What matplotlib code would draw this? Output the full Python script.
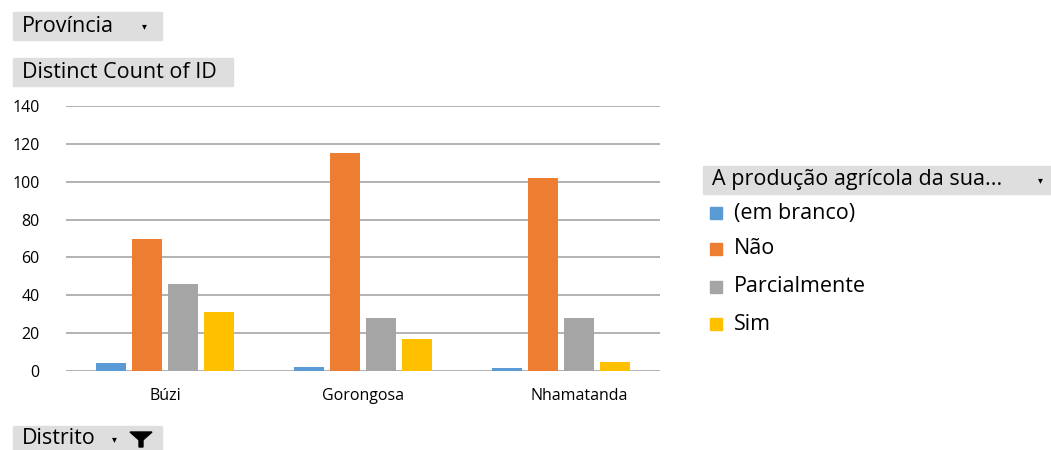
import matplotlib.pyplot as plt
import matplotlib.patches as mpatches
import matplotlib.transforms as mtransforms
import numpy as np

districts = ["Búzi", "Gorongosa", "Nhamatanda"]
series = ["(em branco)", "Não", "Parcialmente", "Sim"]
em_branco = [4, 2, 1.5]
nao = [70, 115, 102]
parcialmente = [46, 28, 28]
sim = [31, 17, 5]
colors = ["#5B9BD5", "#ED7D31", "#A5A5A5", "#FFC000"]

W, H = 1051, 450
fig = plt.figure(figsize=(W / 100, H / 100), dpi=100)
plt.rcParams['font.family'] = ['Open Sans', 'DejaVu Sans']

ax = fig.add_axes([66 / W, 1 - 371 / H, (660 - 66) / W, (371 - 106) / H])
x = np.arange(len(districts))
step = 0.182
width = 0.152
for i, (vals, c) in enumerate(zip([em_branco, nao, parcialmente, sim], colors)):
    ax.bar(x + (i - 1.5) * step, vals, width=width, color=c, zorder=3)

ax.set_xlim(-0.5, 2.5)
ax.set_ylim(0, 140)
ax.set_yticks(range(0, 141, 20))
ax.set_xticks(x)
ax.set_xticklabels(districts, fontsize=11.5)
ax.tick_params(axis='y', labelsize=11.5, length=0, pad=19)
ax.tick_params(axis='x', length=0, pad=12)
# Excel places the last label a bit to the right
shifts = [0, 0, 18]
for lab, dx in zip(ax.get_xticklabels(), shifts):
    lab.set_transform(lab.get_transform() + mtransforms.ScaledTranslation(dx / 100, 0, fig.dpi_scale_trans))
ax.grid(axis='y', color='#a6a6a6', linewidth=1.2, zorder=0)
for s in ax.spines.values():
    s.set_visible(False)


def header(x0, y0, x1, y1, text, arrow_x=None):
    fig.patches.append(mpatches.Rectangle((x0 / W, 1 - y1 / H), (x1 - x0) / W, (y1 - y0) / H,
                                          transform=fig.transFigure, color='#dedede', zorder=0))
    fig.text((x0 + 9) / W, 1 - (y0 + y1) / 2 / H, text, fontsize=15.5, va='center', ha='left')
    if arrow_x is not None:
        fig.text(arrow_x / W, 1 - (y0 + y1) / 2 / H, '▾', fontsize=7, va='center', ha='center',
                 family='DejaVu Sans')


header(13, 12, 162, 40, "Província", arrow_x=144)
header(13, 58, 233, 86, "Distinct Count of ID")
header(13, 426, 162, 452, "Distrito", arrow_x=114)
header(703, 166, 1051, 194, "A produção agrícola da sua...", arrow_x=1040)

# funnel icon
fx, fy = 141, 438
funnel = [(fx - 11, fy - 6), (fx + 11, fy - 6), (fx + 2, fy + 2), (fx + 2, fy + 9),
          (fx - 2, fy + 9), (fx - 2, fy + 2)]
fig.patches.append(mpatches.Polygon([(px / W, 1 - py / H) for px, py in funnel],
                                    transform=fig.transFigure, color='black'))

# legend
rows = [213, 249, 287, 324]
for name, c, ry in zip(series, colors, rows):
    fig.patches.append(mpatches.Rectangle((710 / W, 1 - (ry + 6) / H), 12 / W, 12 / H,
                                          transform=fig.transFigure, color=c))
    fig.text(734 / W, 1 - ry / H, name, fontsize=15.5, va='center', ha='left')

fig.savefig("out.png", dpi=100)
